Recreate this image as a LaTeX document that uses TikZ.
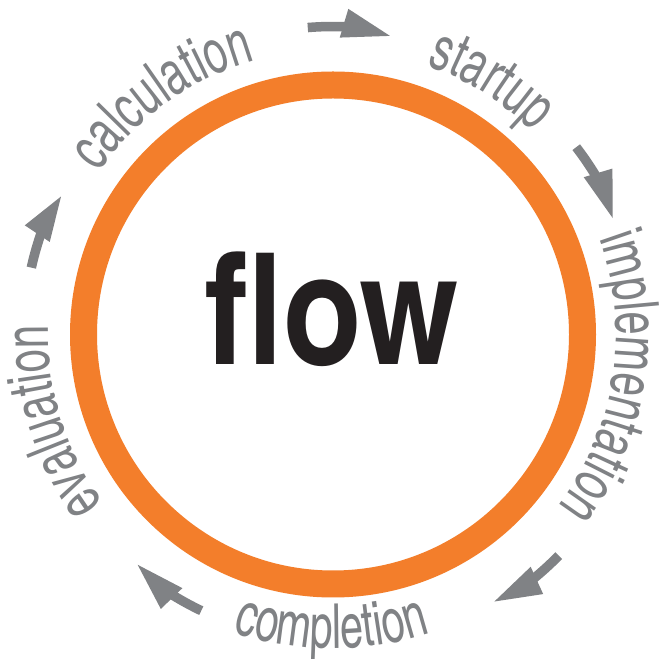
\documentclass[tikz,border=0pt]{standalone}
\usepackage{fontspec}
\usetikzlibrary{calc,decorations.text}
\newfontfamily\labfont{texgyreheroscn-regular.otf}[FakeStretch=0.82]
\newfontfamily\flowfont{texgyreheroscn-bold.otf}
\definecolor{ringorange}{HTML}{F37E2B}
\definecolor{labgray}{HTML}{808285}
\definecolor{flowblack}{HTML}{231F20}
\newcommand\lab{\labfont\fontsize{62}{62}\selectfont}
% clockwise label: mid angle, half span, baseline radius, text
\newcommand\cwlabel[4]{%
  \path[decorate, decoration={text along path, text align=center, text color=labgray, text={|\lab|#4}}]
    ($(c)+({#1+#2}:#3)$) arc[start angle={#1+#2}, end angle={#1-#2}, radius=#3];}
% counter-clockwise label
\newcommand\ccwlabel[4]{%
  \path[decorate, decoration={text along path, text align=center, text color=labgray, text={|\lab|#4}}]
    ($(c)+({#1-#2}:#3)$) arc[start angle={#1-#2}, end angle={#1+#2}, radius=#3];}
% arrow: start angle, head back angle, tip angle, radius
\newcommand\cyclearrow[4]{%
  \draw[arrowshaft] ($(c)+(#1:#4)$) arc[start angle=#1, end angle={#2-1}, radius=#4];
  \fill[labgray] ($(c)+({#2-0.7}:{#4+18})$) -- ($(c)+(#3:{#4-4})$) -- ($(c)+({#2+0.7}:{#4-11})$) -- cycle;}
\tikzset{arrowshaft/.style={draw=labgray, line width=9.5pt}}
\begin{document}
\begin{tikzpicture}[x=1pt,y=1pt]
\useasboundingbox (0,0) rectangle (659,659);
\fill[white] (0,0) rectangle (659,659);
\coordinate (c) at (333,324.5);
\draw[ringorange, line width=27pt] (c) circle[radius=249.5];
\node[font=\flowfont\fontsize{155}{155}\selectfont, text=flowblack, anchor=base, inner sep=0pt] (flow) at (332,294) {flow};
\cwlabel{125.6}{45}{285}{calculation}
\cwlabel{58}{40}{285}{startup}
\cwlabel{-8.7}{45}{283}{implementation}
\ccwlabel{-90.3}{40}{314}{completion}
\cwlabel{197.2}{45}{285}{evaluation}
\cyclearrow{94.7}{88}{79.2}{308}
\cyclearrow{37.6}{31.4}{22.6}{307}
\cyclearrow{-44.4}{-50.3}{-58.85}{316}
\cyclearrow{244.5}{238.6}{229.7}{306}
\cyclearrow{167.5}{161.2}{153.1}{309}
\end{tikzpicture}
\end{document}
